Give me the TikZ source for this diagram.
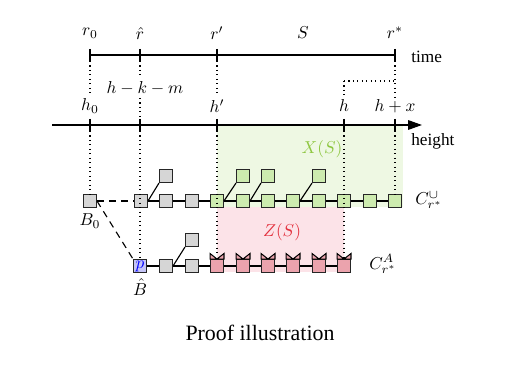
\documentclass[tikz,border=0pt]{standalone}
\usepackage[no-math]{fontspec}
\setmainfont{Liberation Serif}
\usetikzlibrary{arrows.meta}
\definecolor{boxgray}{HTML}{D6D6D6}
\definecolor{boxgreen}{HTML}{CDEBAF}
\definecolor{boxpink}{HTML}{EBA3AD}
\definecolor{boxblue}{HTML}{C4C4F7}
\definecolor{regiongreen}{HTML}{EEF8E3}
\definecolor{regionpink}{HTML}{FCE3E8}
\definecolor{xsgreen}{HTML}{8DC63F}
\definecolor{zsred}{HTML}{E3303D}
\begin{document}
\begin{tikzpicture}[x=0.58pt,y=-0.58pt,
  blk/.style={draw=black!85,line width=0.6pt,minimum size=7.5pt,inner sep=0pt,fill=boxgray},
  hblk/.style={blk,fill=boxgreen},
  ablk/.style={blk,fill=boxpink},
  pblk/.style={blk,fill=boxblue},
  link/.style={line width=0.65pt},
  dlink/.style={line width=0.65pt,dash pattern=on 4pt off 3pt},
  dotl/.style={dotted,line width=0.6pt},
  axisl/.style={line width=0.8pt},
  lbl/.style={inner sep=0pt}]
\useasboundingbox (0,0) rectangle (520,364);

% regions
\fill[regiongreen] (217,125) rectangle (403,207);
\fill[regionpink] (217,207) rectangle (344,272);
\node[lbl,text=xsgreen] (xs) at (322,149) {$X(S)$};
\node[lbl,text=zsred] (zs) at (282,232) {$Z(S)$};

% time axis
\coordinate (ts) at (90,55);
\coordinate (te) at (395,55);
\draw[axisl] (ts) -- (te);
\foreach \x in {90,140,217,395} \draw[axisl] (\x,49) -- (\x,61);
\node[lbl] (lr0) at (90,33) {$r_0$};
\node[lbl] (lrh) at (140,34) {$\hat r$};
\node[lbl] (lrp) at (217,33) {$r'$};
\node[lbl] (lS) at (303,33) {$S$};
\node[lbl] (lrs) at (395,33) {$r^*$};
\node[lbl,anchor=west] (ltime) at (411,57) {time};

% height axis
\coordinate (hs) at (52,125);
\coordinate (he) at (422,125);
\draw[axisl,-{Triangle[length=8pt,width=5.5pt]}] (hs) -- (he);
\foreach \x in {90,140,217,344,395} \draw[axisl] (\x,119) -- (\x,131);
\node[lbl] (lh0) at (90,106) {$h_0$};
\node[lbl] (lhkm) at (145,88) {$h-k-m$};
\node[lbl] (lhp) at (217,106) {$h'$};
\node[lbl] (lh) at (344,106) {$h$};
\node[lbl] (lhx) at (395,106) {$h+x$};
\node[lbl,anchor=west] (lheight) at (411,141) {height};

% top chain
\node[blk] (t0) at (90,201) {};
\node[blk] (t1) at (141,201) {};
\node[blk] (t2) at (166,201) {};
\node[blk] (t3) at (192,201) {};
\node[hblk] (t4) at (217,201) {};
\node[hblk] (t5) at (243,201) {};
\node[hblk] (t6) at (268,201) {};
\node[hblk] (t7) at (293,201) {};
\node[hblk] (t8) at (319,201) {};
\node[hblk] (t9) at (344,201) {};
\node[hblk] (t10) at (370,201) {};
\node[hblk] (t11) at (395,201) {};
\node[blk] (u1) at (166,176) {};
\node[hblk] (u4) at (243,176) {};
\node[hblk] (u5) at (268,176) {};
\node[hblk] (u7) at (319,176) {};
\draw[dlink] (t0) -- (t1);
\foreach \a/\b in {t1/t2,t2/t3,t3/t4,t4/t5,t5/t6,t6/t7,t7/t8,t8/t9,t9/t10,t10/t11}
  \draw[link] (\a) -- (\b);
\foreach \a/\b in {t1/u1,t4/u4,t5/u5,t7/u7}
  \draw[link] (\a.east) -- (\b.south west);
\node[lbl] (lB0) at (90,221) {$B_0$};
\node[lbl,anchor=west] (lCU) at (415,200) {$C^{\cup}_{r^*}$};

% bottom chain
\node[pblk] (b1) at (140,266) {\textcolor{blue}{$p$}};
\node[blk] (b2) at (166,266) {};
\node[blk] (b3) at (192,266) {};
\node[ablk] (b4) at (217,266) {};
\node[ablk] (b5) at (243,266) {};
\node[ablk] (b6) at (268,266) {};
\node[ablk] (b7) at (293,266) {};
\node[ablk] (b8) at (319,266) {};
\node[ablk] (b9) at (344,266) {};
\node[blk] (v2) at (192,240) {};
\foreach \a/\b in {b1/b2,b2/b3,b3/b4,b4/b5,b5/b6,b6/b7,b7/b8,b8/b9}
  \draw[link] (\a) -- (\b);
\draw[link] (b2.east) -- (v2.south west);
\foreach \n in {b4,b5,b6,b7,b8,b9}
  \draw[line width=0.6pt,fill=boxpink] (\n.north west) -- ([yshift=3.2pt]\n.north west)
     -- (\n.north) -- ([yshift=3.2pt]\n.north east) -- (\n.north east) -- cycle;
\draw[dlink] (t0.east) -- (b1.north west);
\node[lbl] (lBh) at (140,287) {$\hat B$};
\node[lbl,anchor=west] (lCA) at (369,264) {$C^{A}_{r^*}$};

% dotted guides
\draw[dotl] (90,61) -- (90,93);
\draw[dotl] (90,131) -- (t0.north);
\draw[dotl] (140,61) -- (140,78);
\draw[dotl] (140,98) -- (140,119);
\draw[dotl] (140,131) -- (b1.north);
\draw[dotl] (217,61) -- (217,93);
\draw[dotl] (217,131) -- ([yshift=3.2pt]b4.north west -| b4.north);
\draw[dotl] (395,61) -- (395,97);
\draw[dotl] (395,131) -- (t11.north);
\draw[dotl] (344,81) -- (395,81);
\draw[dotl] (344,81) -- (344,95);
\draw[dotl] (344,131) -- (b9.north);

% caption
\node[lbl] (cap) at (260,333) {\fontsize{12.7}{15}\selectfont Proof illustration};
\end{tikzpicture}
\end{document}
